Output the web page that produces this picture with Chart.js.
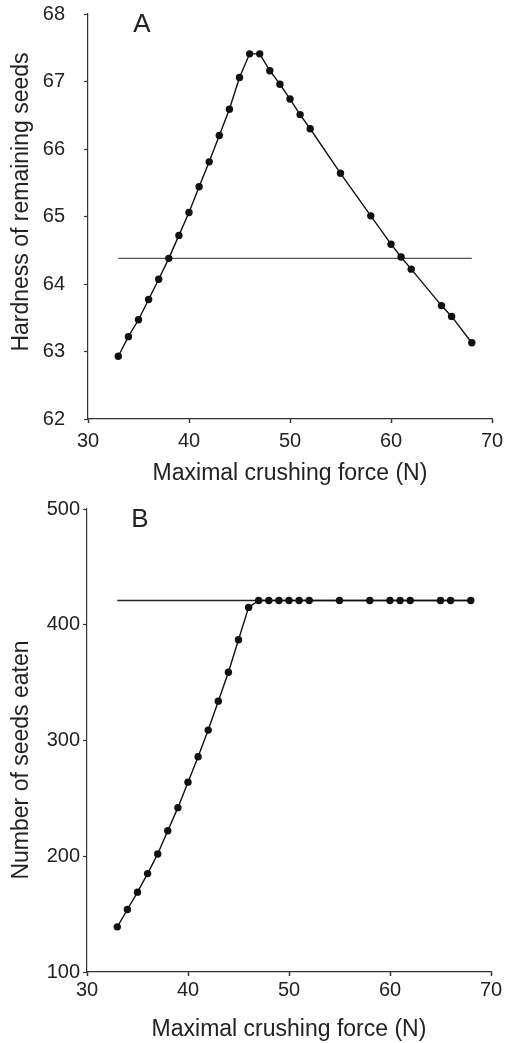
<!DOCTYPE html>
<html>
<head>
<meta charset="utf-8">
<script src="https://cdn.jsdelivr.net/npm/chart.js@4.4.1/dist/chart.umd.min.js"></script>
<style>
    html, body { margin: 0; padding: 0; background: #fff; }
    #wrapA { position: absolute; left: 0; top: 0; width: 511px; height: 500px; }
    #wrapB { position: absolute; left: 0; top: 500px; width: 511px; height: 543px; }
</style>
</head>
<body>
<div id="wrapA"><canvas id="chartHardness"></canvas></div>
<div id="wrapB"><canvas id="chartSeeds"></canvas></div>
<script>
// values
const crushingForce = [33, 34, 35, 36, 37, 38, 39, 40, 41, 42, 43, 44, 45, 46, 47, 48, 49, 50, 51, 52, 55, 58, 60, 61, 62, 65, 66, 68];
const hardness = [62.93, 63.22, 63.47, 63.77, 64.07, 64.38, 64.72, 65.06, 65.44, 65.81, 66.20, 66.59, 67.06, 67.41, 67.41, 67.16, 66.96, 66.74, 66.51, 66.30, 65.64, 65.01, 64.59, 64.40, 64.22, 63.68, 63.52, 63.13];
const seedsEaten = [139, 154, 169, 185, 202, 222, 242, 264, 286, 309, 334, 359, 387, 415, 421, 421, 421, 421, 421, 421, 421, 421, 421, 421, 421, 421, 421, 421];
const hardnessRef = 64.38;
const seedsRef = 421;
const refRange = [33, 68];

const forceTicks = [30, 40, 50, 60, 70];
const hardnessTicks = [62, 63, 64, 65, 66, 67, 68];
const seedsTicks = [100, 200, 300, 400, 500];

Chart.defaults.font.family = '"Liberation Sans", Arial, sans-serif';
Chart.defaults.color = '#222';

// panel letter and the rotated y title (placed a bit off the plot centre, as in the figure)
function panelText(opts) {
    return {
        id: 'panelText' + opts.label,
        afterDraw(chart) {
            const ctx = chart.ctx;
            ctx.save();
            ctx.fillStyle = '#222';
            ctx.font = '26px "Liberation Sans", Arial, sans-serif';
            ctx.textAlign = 'center';
            ctx.fillText(opts.label, opts.labelX, opts.labelY);
            ctx.font = '23px "Liberation Sans", Arial, sans-serif';
            ctx.textBaseline = 'middle';
            ctx.translate(22, opts.yTitleY);
            ctx.rotate(-Math.PI / 2);
            ctx.fillText(opts.yTitle, 0, 0);
            ctx.restore();
        }
    };
}

function renderPanel(canvasId, opts) {
    const points = crushingForce.map((x, i) => ({ x: x, y: opts.values[i] }));
    const refLine = refRange.map(x => ({ x: x, y: opts.ref }));
    const config = {
        type: 'scatter',
        data: {
            datasets: [{
                data: points,
                showLine: true,
                borderColor: '#111',
                borderWidth: 1.4,
                pointRadius: 3.7,
                pointBackgroundColor: '#111',
                pointBorderWidth: 0
            }, {
                data: refLine,
                showLine: true,
                borderColor: opts.refColor,
                borderWidth: 1.4,
                pointRadius: 0
            }]
        },
        options: {
            responsive: true,
            maintainAspectRatio: false,
            animation: false,
            layout: { padding: opts.padding },
            scales: {
                x: {
                    type: 'linear',
                    min: 30,
                    max: 70,
                    afterBuildTicks: scale => { scale.ticks = forceTicks.map(v => ({ value: v })); },
                    afterFit: scale => { scale.height = opts.xHeight; scale.paddingLeft = 0; scale.paddingRight = 0; },
                    border: { display: true, color: '#333', width: 1.2 },
                    grid: { drawOnChartArea: false, drawTicks: true, tickLength: 4, color: '#333', tickWidth: 1.5 },
                    ticks: { font: { size: 20 }, padding: opts.xTickPad, maxRotation: 0 },
                    title: {
                        display: true,
                        text: 'Maximal crushing force (N)',
                        font: { size: 23 },
                        padding: { top: 0, bottom: opts.xTitlePad }
                    }
                },
                y: {
                    type: 'linear',
                    min: opts.yTicks[0],
                    max: opts.yTicks[opts.yTicks.length - 1],
                    afterBuildTicks: scale => { scale.ticks = opts.yTicks.map(v => ({ value: v })); },
                    afterFit: scale => { scale.width = opts.yWidth; scale.paddingTop = 0; scale.paddingBottom = 0; },
                    border: { display: true, color: '#333', width: 1.2 },
                    grid: { drawOnChartArea: false, drawTicks: true, tickLength: 4, color: '#333', tickWidth: 1.2 },
                    ticks: { font: { size: 20 }, padding: opts.yTickPad }
                }
            },
            plugins: {
                legend: { display: false },
                tooltip: { enabled: false }
            }
        },
        plugins: [panelText(opts)]
    };
    return new Chart(document.getElementById(canvasId), config);
}

renderPanel('chartHardness', {
    values: hardness,
    ref: hardnessRef,
    refColor: '#555',
    yTicks: hardnessTicks,
    yTitle: 'Hardness of remaining seeds',
    yTitleY: 202,
    padding: { top: 14, right: 19, left: 0, bottom: 0 },
    xHeight: 81,
    yWidth: 88,
    xTickPad: 6,
    yTickPad: 19,
    xTitlePad: 13,
    label: 'A', labelX: 142, labelY: 32
});

renderPanel('chartSeeds', {
    values: seedsEaten,
    ref: seedsRef,
    refColor: '#222',
    yTicks: seedsTicks,
    yTitle: 'Number of seeds eaten',
    yTitleY: 260,
    padding: { top: 9, right: 20, left: 0, bottom: 0 },
    xHeight: 71,
    yWidth: 87,
    xTickPad: 2,
    yTickPad: 3,
    xTitlePad: 0,
    label: 'B', labelX: 140, labelY: 27
});
</script>
</body>
</html>
